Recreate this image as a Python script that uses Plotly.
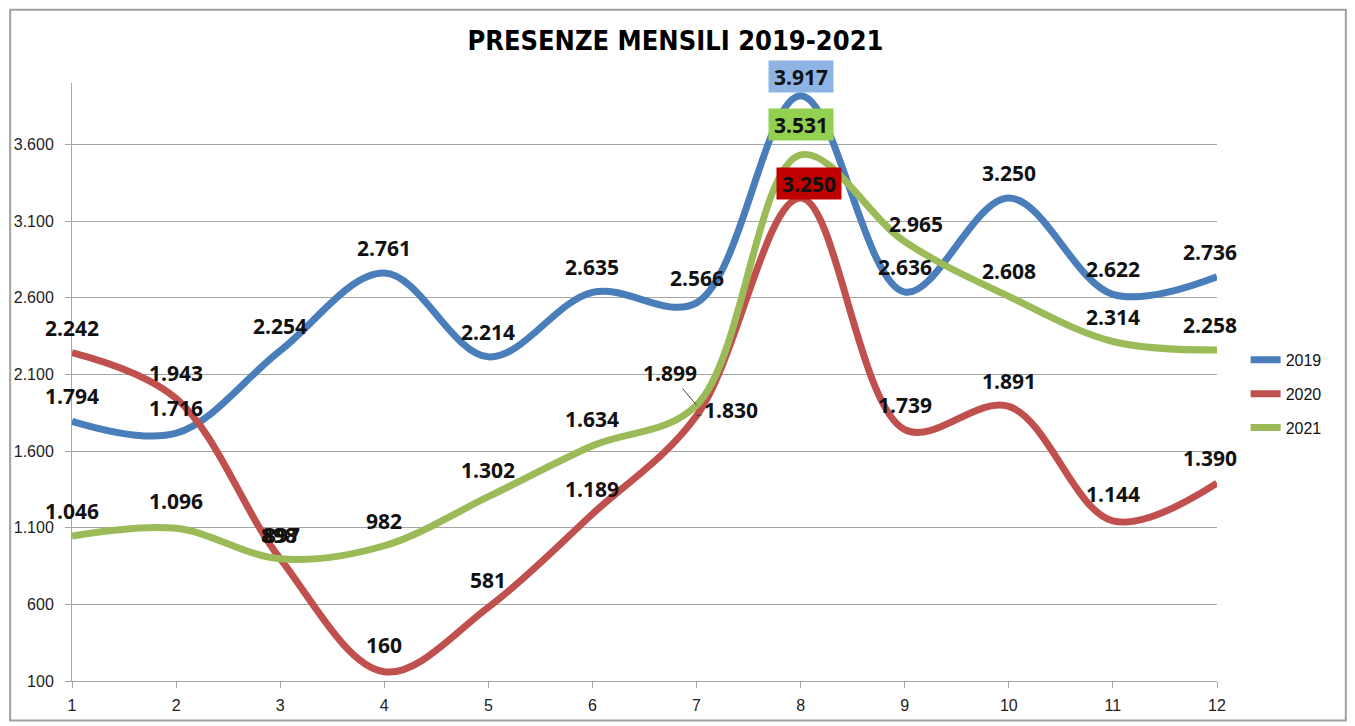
import plotly.graph_objects as go

# ---------------- data ----------------
months = [1, 2, 3, 4, 5, 6, 7, 8, 9, 10, 11, 12]
series_names = ["2019", "2020", "2021"]
values_2019 = [1794, 1716, 2254, 2761, 2214, 2635, 2566, 3917, 2636, 3250, 2622, 2736]
values_2020 = [2242, 1943, 898, 160, 581, 1189, 1830, 3250, 1739, 1891, 1144, 1390]
values_2021 = [1046, 1096, 897, 982, 1302, 1634, 1899, 3531, 2965, 2608, 2314, 2258]
y_tick_vals = [100, 600, 1100, 1600, 2100, 2600, 3100, 3600]
y_tick_text = ["100", "600", "1.100", "1.600", "2.100", "2.600", "3.100", "3.600"]
title_text = "PRESENZE MENSILI 2019-2021"

# ---------------- styles ----------------
colors = {"2019": "#4A7EBB", "2020": "#C0504D", "2021": "#9BBB59"}
box_colors = {"2019": "#8DB4E2", "2020": "#C00000", "2021": "#92D050"}
label_font = dict(family="Open Sans, Noto Sans, sans-serif", size=21, color="#111111")
axis_font = dict(family="Liberation Sans, Arial, sans-serif", size=16, color="#222222")

# label offsets (xshift, yshift) exceptions, default (0, 25)
offsets = {
    ("2019", 8): (0, 19),
    ("2021", 8): (0, 30),
    ("2020", 8): (8, 15),
    ("2021", 9): (11, 18),
    ("2020", 3): (-1, 24),
    ("2021", 3): (2, 24),
    ("2020", 4): (0, 27),
    ("2020", 5): (0, 27),
    ("2020", 11): (0, 27),
    ("2021", 2): (0, 27),
    ("2021", 5): (0, 27),
    ("2021", 6): (0, 27),
}
arrow_labels = {("2021", 7): (-27, -32), ("2020", 7): (34, -6)}
boxed_month = 8


def fmt(v):
    return f"{v:,}".replace(",", ".")


data = {"2019": values_2019, "2020": values_2020, "2021": values_2021}

fig = go.Figure()
for name in series_names:
    fig.add_trace(go.Scatter(
        x=months, y=data[name], name=name, mode="lines",
        line=dict(color=colors[name], width=7, shape="spline", smoothing=1.0),
        legendgroup=name,
    ))

annotations = []
for name in series_names:
    for m, v in zip(months, data[name]):
        key = (name, m)
        txt = "<b>" + fmt(v) + "</b>"
        if key in arrow_labels:
            ax, ay = arrow_labels[key]
            annotations.append(dict(
                x=m, y=v, text=txt, showarrow=True, ax=ax, ay=ay,
                arrowhead=0, arrowwidth=1, arrowcolor="#404040", standoff=0,
                font=label_font,
            ))
            continue
        xs, ys = offsets.get(key, (0, 25))
        if m == 12:
            xs = -7
        ann = dict(x=m, y=v, text=txt, showarrow=False, xshift=xs, yshift=ys,
                   font=label_font)
        if m == boxed_month:
            ann.update(bgcolor=box_colors[name], width=64, height=31, borderpad=0)
        annotations.append(ann)

fig.update_layout(
    width=1347, height=718, autosize=False,
    paper_bgcolor="white", plot_bgcolor="white",
    margin=dict(l=64, r=138, t=75, b=45, autoexpand=False),
    title=dict(text="<b>" + title_text + "</b>", x=0.527, xanchor="center",
               y=0.955, yanchor="middle", xref="paper",
               font=dict(family="DejaVu Sans Condensed, Liberation Sans Narrow, sans-serif",
                         size=27, color="#000000")),
    showlegend=True,
    legend=dict(x=1.025, xanchor="left", y=0.48, yanchor="middle",
                font=dict(family="Liberation Sans, Arial, sans-serif", size=16, color="#111111"),
                tracegroupgap=10, traceorder="grouped", bgcolor="rgba(0,0,0,0)"),
    annotations=annotations,
    shapes=[dict(type="rect", xref="paper", yref="paper",
                 x0=-0.054, x1=1.1125, y0=-0.066, y1=1.1225,
                 line=dict(color="#A0A0A0", width=2), fillcolor="rgba(0,0,0,0)",
                 layer="below")],
)
fig.update_xaxes(range=[1, 12], tickvals=months, ticktext=[str(m) for m in months],
                 showgrid=False, zeroline=False, showline=True, linecolor="#A6A6A6",
                 linewidth=1, ticks="outside", ticklen=6, tickcolor="#A6A6A6",
                 tickfont=axis_font, ticklabelstandoff=4, automargin=False)
fig.update_yaxes(range=[100, 4000], tickvals=y_tick_vals, ticktext=y_tick_text,
                 showgrid=True, gridcolor="#A6A6A6", gridwidth=1, zeroline=False,
                 showline=True, linecolor="#A6A6A6", linewidth=1,
                 ticks="outside", ticklen=6, tickcolor="#A6A6A6",
                 tickfont=axis_font, ticklabelstandoff=8, automargin=False)

fig.write_html("out.html")
